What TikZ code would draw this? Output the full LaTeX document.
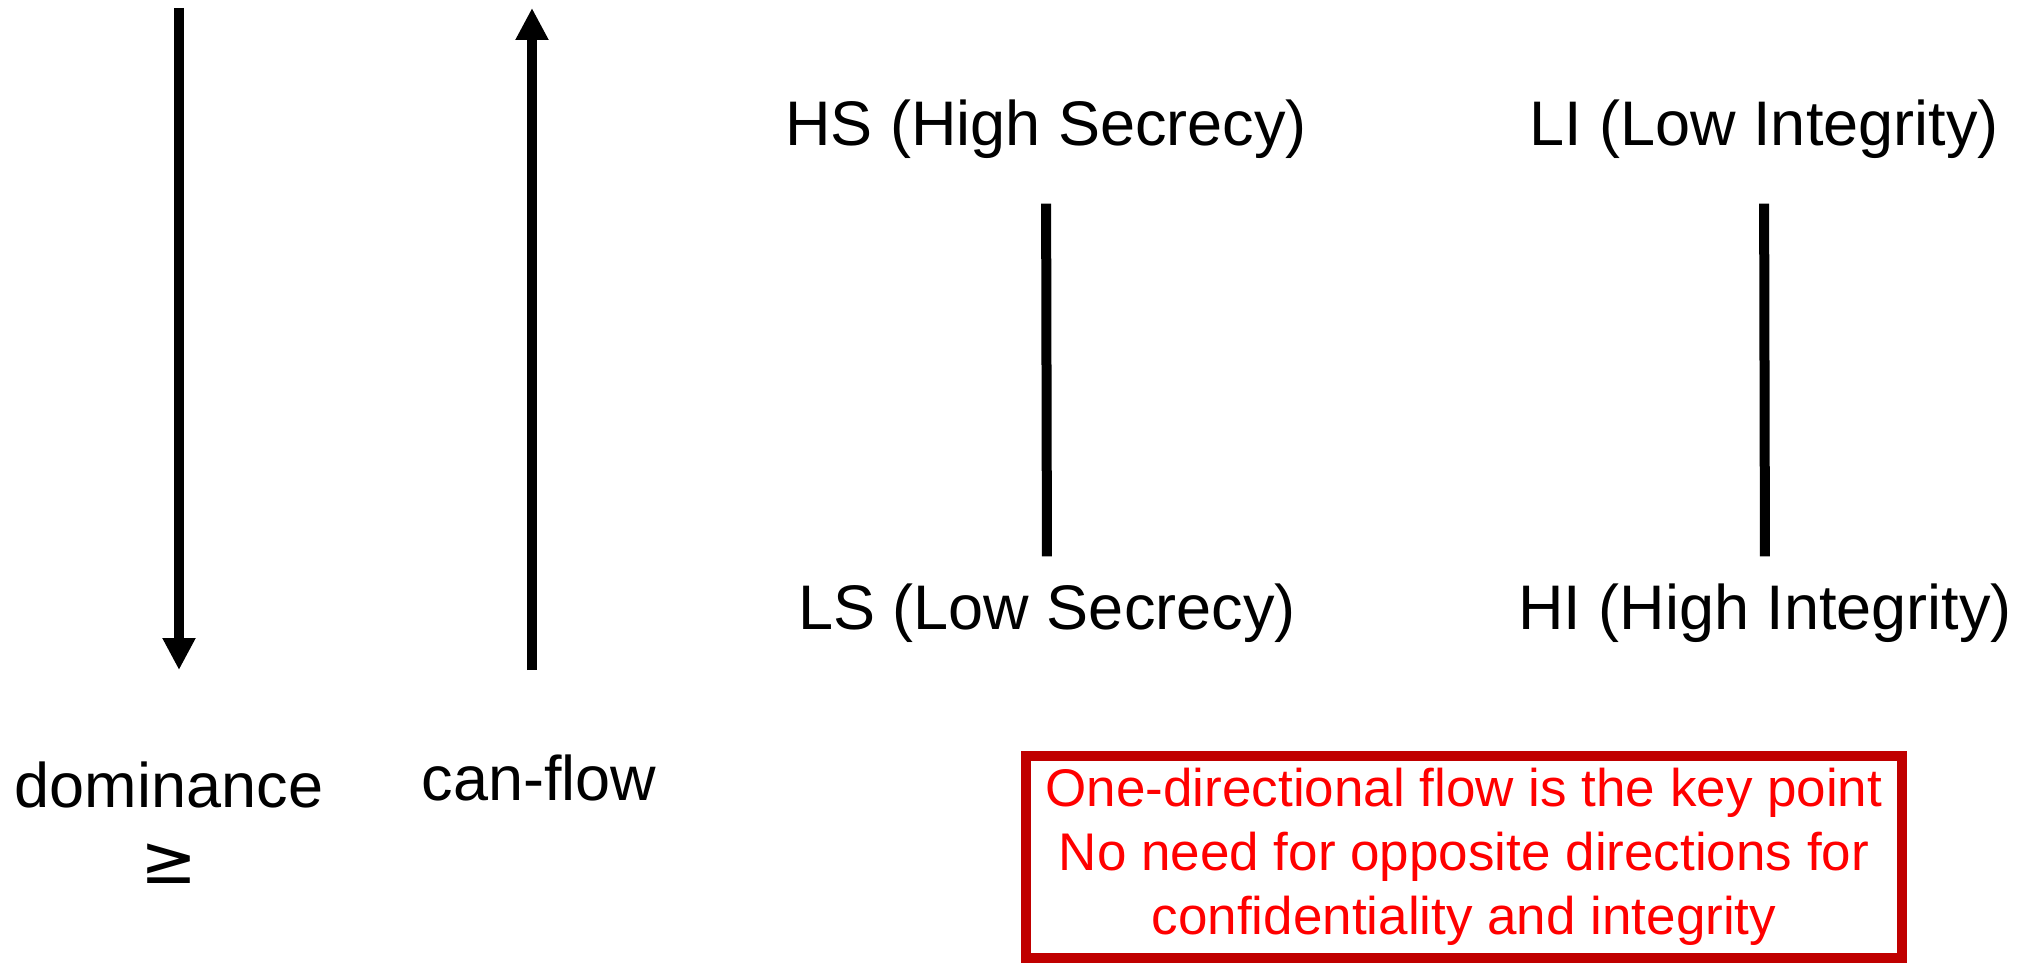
\documentclass[tikz,border=0pt]{standalone}
\usepackage{fontspec}
\setmainfont{Liberation Sans}
\newfontfamily\symfamily{DejaVu Sans}
\usetikzlibrary{arrows.meta}
\definecolor{boxred}{RGB}{192,0,0}
\definecolor{notered}{RGB}{255,0,0}
\begin{document}
\begin{tikzpicture}[x=1pt,y=-1pt,
  lbl/.style={inner sep=0pt, outer sep=0pt, anchor=base, font=\fontsize{63}{76}\selectfont},
  bar/.style={line width=10pt},
  flowarrow/.style={line width=10pt, -{Triangle[width=31pt,length=32pt]}},
  notebox/.style={draw=boxred, line width=10pt, text=notered, align=center,
    inner sep=0pt, minimum width=876pt, minimum height=202pt,
    font=\fontsize{53}{64}\selectfont}]
\useasboundingbox (0,0) rectangle (2036,963);

% direction arrows on the left
\coordinate (domTop) at (179,8);
\coordinate (domTip) at (179,670);
\coordinate (flowBot) at (532,670);
\coordinate (flowTip) at (532,8);
\draw[flowarrow] (domTop) -- (domTip);
\draw[flowarrow] (flowBot) -- (flowTip);

\node[lbl] (dom) at (169,807) {dominance};
\node[inner sep=0pt, font=\symfamily\fontsize{68}{80}\selectfont] (geq) at (169,864) {≥};
\node[lbl] (flow) at (539,800) {can-flow};

% secrecy lattice
\node[lbl] (HS) at (1046,146) {HS (High Secrecy)};
\node[lbl] (LS) at (1047,629) {LS (Low Secrecy)};
\draw[bar, shorten <=44.6pt, shorten >=27pt] (HS.south) -- (LS.north);

% integrity lattice
\node[lbl] (LI) at (1764,146) {LI (Low Integrity)};
\node[lbl] (HI) at (1765,629) {HI (High Integrity)};
\draw[bar, shorten <=44.6pt, shorten >=27pt] (LI.south) -- (HI.north);

% remark
\node[notebox] (note) at (1464,857) {One-directional flow is the key point\\No need for opposite directions for\\confidentiality and integrity};
\end{tikzpicture}
\end{document}
